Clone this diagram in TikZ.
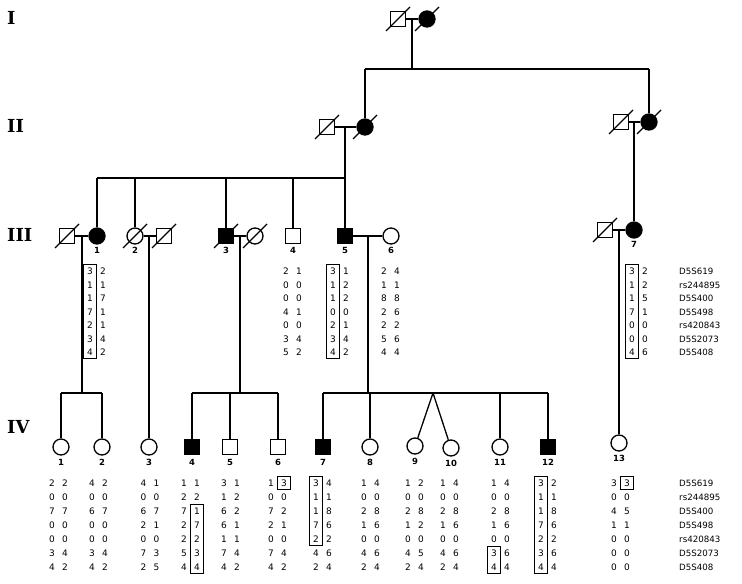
\documentclass[tikz,border=0pt]{standalone}
\usepackage{fontspec}
\setmainfont{DejaVu Sans}
\newfontfamily\genfont{DejaVu Serif}
\tikzset{
 ln/.style={line width=1.3bp},
 male/.style={draw, line width=1.3bp, rectangle, minimum size=15bp, inner sep=0pt, fill=white},
 female/.style={draw, line width=1.3bp, circle, minimum size=16bp, inner sep=0pt, fill=white},
 aff/.style={fill=black},
 idnum/.style={font=\bfseries\fontsize{8.5}{9}\selectfont, inner sep=0pt},
 gen/.style={font=\genfont\bfseries\fontsize{18}{20}\selectfont, anchor=west, inner sep=0pt},
 hd/.style={font=\fontsize{9}{10}\selectfont, inner sep=0pt},
 mk/.style={font=\fontsize{8.7}{10}\selectfont, inner sep=0pt, anchor=west},
 boxl/.style={line width=0.9bp},
}
\newcommand\deceased[1]{\draw[ln] ([shift={(-12,12)}]#1.center) -- ([shift={(12,-12)}]#1.center);}
\newcommand\haplo[6]{%
 \foreach \d [count=\i] in {#5} {\node[hd] (#1L\i) at ({#2-6.5},{round(#3+(\i-1)*#4)}) {\d};}
 \foreach \d [count=\i] in {#6} {\node[hd] (#1R\i) at ({#2+6.5},{round(#3+(\i-1)*#4)}) {\d};}}
\newcommand\hapbox[5]{\draw[boxl] ({#1-6.3},{#2+(#4-1)*#3-6.8}) rectangle ({#1+6.3},{#2+(#5-1)*#3+6.8});}
\begin{document}
\begin{tikzpicture}[x=1bp,y=-1bp]
\useasboundingbox (0,0) rectangle (742,584);
% generation labels
\node[gen] (gI) at (7,18) {I};
\node[gen] (gII) at (7,126) {II};
\node[gen] (gIII) at (7,235) {III};
\node[gen] (gIV) at (7,427) {IV};
% ---------- generation I
\node[male] (I1) at (398,19) {};
\node[female,aff] (I2) at (427,19) {};
\draw[ln] (I1.east) -- (I2.west);
\coordinate (dI) at (412,19);
\coordinate (sI) at (412,69);
\draw[ln] (dI) -- (sI);
\coordinate (sIa) at (365,69);
\coordinate (sIb) at (649,69);
\draw[ln] (sIa) -- (sIb);
% ---------- generation II
\node[male] (II1) at (327,127) {};
\node[female,aff] (II2) at (365,127) {};
\node[male] (II3) at (621,122) {};
\node[female,aff] (II4) at (649,122) {};
\draw[ln] (sIa) -- (II2.north);
\draw[ln] (sIb) -- (II4.north);
\draw[ln] (II1.east) -- (II2.west);
\draw[ln] (II3.east) -- (II4.west);
% ---------- generation III
\node[male] (III1s) at (67,236) {};
\node[female,aff] (III1) at (97,236) {};
\node[female] (III2) at (135,236) {};
\node[male] (III2s) at (164,236) {};
\node[male,aff] (III3) at (226,236) {};
\node[female] (III3s) at (255,236) {};
\node[male] (III4) at (293,236) {};
\node[male,aff] (III5) at (345,236) {};
\node[female] (III6) at (391,236) {};
\node[male] (III7s) at (605,230) {};
\node[female,aff] (III7) at (634,230) {};
\foreach \n/\t in {III1/1,III2/2,III3/3,III4/4,III5/5,III6/6,III7/7}
  {\node[idnum] (\n num) at ([yshift=-14.5bp]\n.center) {\t};}
% II1 x II2 descent and sibship
\coordinate (dII) at (345,127);
\draw[ln] (dII) -- (III5.north);
\coordinate (sIIa) at (97,178);
\coordinate (sIIb) at (345,178);
\draw[ln] (sIIa) -- (sIIb);
\foreach \n in {III1,III2,III3,III4}
  {\draw[ln] (\n.north |- sIIa) -- (\n.north);}
% II3 x II4
\coordinate (dII2) at (634,122);
\draw[ln] (dII2) -- (III7.north);
% couples III
\draw[ln] (III1s.east) -- (III1.west);
\draw[ln] (III2.east) -- (III2s.west);
\draw[ln] (III3.east) -- (III3s.west);
\draw[ln] (III5.east) -- (III6.west);
\draw[ln] (III7s.east) -- (III7.west);
% ---------- generation IV
\foreach \n/\x/\s in {IV1/61/female,IV2/102/female,IV3/149/female,IV5/230/male,IV6/278/male,IV8/370/female,IV11/500/female}
  {\node[\s] (\n) at (\x,447) {};}
\node[male,aff] (IV4) at (192,447) {};
\node[male,aff] (IV7) at (323,447) {};
\node[male,aff] (IV12) at (548,447) {};
\node[female] (IV9) at (415,446) {};
\node[female] (IV10) at (451,448) {};
\node[female] (IV13) at (619,443) {};
\foreach \n/\t in {IV1/1,IV2/2,IV3/3,IV4/4,IV5/5,IV6/6,IV7/7,IV8/8,IV9/9,IV10/10,IV11/11,IV12/12,IV13/13}
  {\node[idnum] (\n num) at ([yshift=-15bp]\n.center) {\t};}
% III1 family
\coordinate (d1) at (82,236);
\coordinate (s1) at (82,393);
\draw[ln] (d1) -- (s1);
\coordinate (s1a) at (61,393);
\coordinate (s1b) at (102,393);
\draw[ln] (s1a) -- (s1b);
\draw[ln] (s1a) -- (IV1.north);
\draw[ln] (s1b) -- (IV2.north);
% III2 family
\coordinate (d2) at (149,236);
\draw[ln] (d2) -- (IV3.north);
% III3 family
\coordinate (d3) at (240,236);
\coordinate (s3) at (240,393);
\draw[ln] (d3) -- (s3);
\coordinate (s3a) at (192,393);
\coordinate (s3b) at (278,393);
\draw[ln] (s3a) -- (s3b);
\foreach \n in {IV4,IV5,IV6} {\draw[ln] (\n.north |- s3a) -- (\n.north);}
% III5 family
\coordinate (d5) at (368,236);
\coordinate (s5) at (368,393);
\draw[ln] (d5) -- (s5);
\coordinate (s5a) at (323,393);
\coordinate (s5b) at (548,393);
\draw[ln] (s5a) -- (s5b);
\foreach \n in {IV7,IV8,IV11,IV12} {\draw[ln] (\n.north |- s5a) -- (\n.north);}
\coordinate (tw) at (433,393);
\draw[ln] (tw) -- (IV9);
\draw[ln] (tw) -- (IV10);
% III7 family
\coordinate (d7) at (619,230);
\draw[ln] (d7) -- (IV13.north);
% deceased slashes
\foreach \n in {I1,I2,II1,II2,II3,II4,III1s,III2,III2s,III3,III3s,III7s} {\deceased{\n}}
% ---------- haplotypes III
\haplo{hIIIa}{96.5}{271}{13.5}{3,1,1,7,2,3,4}{2,1,7,1,1,4,2}
\haplo{hIIId}{292.5}{271}{13.5}{2,0,0,4,0,3,5}{1,0,0,1,0,4,2}
\haplo{hIIIe}{339.5}{271}{13.5}{3,1,1,0,2,3,4}{1,2,2,0,1,4,2}
\haplo{hIIIf}{390.5}{271}{13.5}{2,1,8,2,2,5,4}{4,1,8,6,2,6,4}
\haplo{hIIIg}{638.5}{271}{13.5}{3,1,1,7,0,0,4}{2,2,5,1,0,0,6}
\hapbox{90}{271}{13.5}{1}{7}
\hapbox{333}{271}{13.5}{1}{7}
\hapbox{632}{271}{13.5}{1}{7}
\foreach \m [count=\i] in {D5S619,rs244895,D5S400,D5S498,rs420843,D5S2073,D5S408}
  {\node[mk] (mIII\i) at (679,{round(271+(\i-1)*13.5)}) {\m};}
% ---------- haplotypes IV
\haplo{hIVa}{58.5}{483}{14}{2,0,7,0,0,3,4}{2,0,7,0,0,4,2}
\haplo{hIVb}{98.5}{483}{14}{4,0,6,0,0,3,4}{2,0,7,0,0,4,2}
\haplo{hIVc}{150}{483}{14}{4,0,6,2,0,7,2}{1,0,7,1,0,3,5}
\haplo{hIVd}{190.5}{483}{14}{1,2,7,2,2,5,4}{1,2,1,7,2,3,4}
\haplo{hIVe}{230.5}{483}{14}{3,1,6,6,1,7,4}{1,2,2,1,1,4,2}
\haplo{hIVf}{277.5}{483}{14}{1,0,7,2,0,7,4}{3,0,2,1,0,4,2}
\haplo{hIVg}{322.5}{483}{14}{3,1,1,7,2,4,2}{4,1,8,6,2,6,4}
\haplo{hIVh}{370.5}{483}{14}{1,0,2,1,0,4,2}{4,0,8,6,0,6,4}
\haplo{hIVi}{414.5}{483}{14}{1,0,2,1,0,4,2}{2,0,8,2,0,5,4}
\haplo{hIVj}{449.5}{483}{14}{1,0,2,1,0,4,2}{4,0,8,6,0,6,4}
\haplo{hIVk}{500.5}{483}{14}{1,0,2,1,0,3,4}{4,0,8,6,0,6,4}
\haplo{hIVl}{547.5}{483}{14}{3,1,1,7,2,3,4}{2,1,8,6,2,6,4}
\haplo{hIVm}{620.5}{483}{14}{3,0,4,1,0,0,0}{3,0,5,1,0,0,0}
\hapbox{197}{483}{14}{3}{7}
\hapbox{284}{483}{14}{1}{1}
\hapbox{316}{483}{14}{1}{5}
\hapbox{494}{483}{14}{6}{7}
\hapbox{541}{483}{14}{1}{7}
\hapbox{627}{483}{14}{1}{1}
\foreach \m [count=\i] in {D5S619,rs244895,D5S400,D5S498,rs420843,D5S2073,D5S408}
  {\node[mk] (mIV\i) at (679,{483+(\i-1)*14}) {\m};}
\end{tikzpicture}
\end{document}
